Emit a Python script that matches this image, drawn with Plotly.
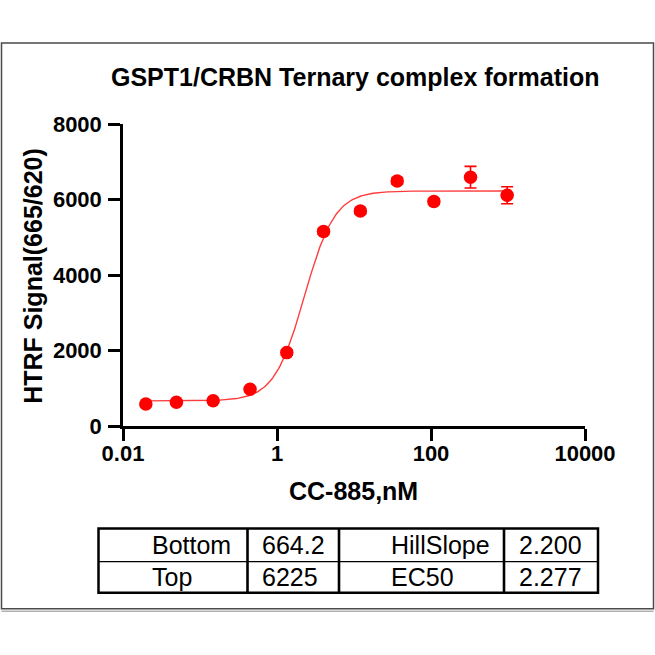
"""
GSPT1/CRBN ternary complex formation - dose response with 4PL fit
"""

import numpy as np
import plotly.graph_objects as go

conc_nm = [0.0198, 0.0494, 0.148, 0.447, 1.34, 4.02, 12.1, 36.4, 109, 326, 975]
htrf_signal = [583, 628, 671, 973, 1944, 5152, 5693, 6489, 5948, 6590, 6112]
htrf_err = [40, 40, 40, 60, 70, 80, 70, 80, 80, 287, 226]

# fit parameters shown in the table
fit_names = ["Bottom", "Top", "HillSlope", "EC50"]
fit_labels = ["664.2", "6225", "2.200", "2.277"]
bottom, top, hill, ec50 = 664.2, 6225.0, 2.200, 2.277

x_ticks = [0.01, 1, 100, 10000]
x_tick_text = ["0.01", "1", "100", "10000"]
y_ticks = [0, 2000, 4000, 6000, 8000]

RED = "#FF0000"
FONT = "Liberation Sans, Arial, sans-serif"

# pixel geometry of the plot area (655 x 655 page)
W = H = 655
L, R, T, B = 123, 585, 124.3, 426


def px(x):
    return (x - L) / (R - L)


def py(y):
    return (B - y) / (B - T)


# 4PL curve evaluated from the fitted parameters
curve_x = np.logspace(np.log10(conc_nm[0]), np.log10(conc_nm[-1]), 300)
curve_y = bottom + (top - bottom) / (1 + (ec50 / curve_x) ** hill)

fig = go.Figure()
fig.add_trace(go.Scatter(
    x=curve_x, y=curve_y, mode="lines",
    line={"color": "#FF3B3B", "width": 1.4},
    hoverinfo="skip", showlegend=False,
))
fig.add_trace(go.Scatter(
    x=conc_nm, y=htrf_signal, mode="markers",
    marker={"color": RED, "size": 13.5},
    error_y={"type": "data", "array": htrf_err, "color": RED,
             "thickness": 1.6, "width": 6},
    showlegend=False,
))

axis_common = {
    "showline": True, "linecolor": "black", "ticks": "outside",
    "ticklen": 12, "tickcolor": "black", "showgrid": False,
    "zeroline": False, "mirror": False,
    "tickfont": {"family": FONT, "size": 22, "color": "black", "weight": "bold"},
}

fig.update_layout(
    width=W, height=H,
    margin={"l": L, "r": W - R, "t": T, "b": H - B, "pad": 0},
    paper_bgcolor="white", plot_bgcolor="white",
    xaxis={**axis_common, "type": "log", "range": [-2, 4],
           "tickvals": x_ticks, "ticktext": x_tick_text,
           "linewidth": 3, "tickwidth": 3, "ticklabelstandoff": -6},
    yaxis={**axis_common, "range": [0, 8000], "tickvals": y_ticks,
           "linewidth": 2.5, "tickwidth": 2.5, "ticklabelstandoff": 2},
)

annotations = [
    {"text": "<b>GSPT1/CRBN Ternary complex formation</b>", "x": px(355), "y": py(77),
     "font": {"size": 25}},
    {"text": "<b>CC-885,nM</b>", "x": px(353), "y": py(491), "font": {"size": 25}},
    {"text": "<b>HTRF Signal(665/620)</b>", "x": px(33), "y": py(276),
     "font": {"size": 25}, "textangle": -90},
]

# table geometry
tbl_left, tbl_right = 98.5, 598
tbl_top, tbl_mid, tbl_bot = 528.5, 561.5, 592.5
col_lines = [247.5, 339, 504]
text_x = [150, 260, 389, 517]
row_y = [(tbl_top + tbl_mid) / 2, (tbl_mid + tbl_bot) / 2]

cells = [
    (fit_names[0], text_x[0], row_y[0]),
    (fit_labels[0], text_x[1], row_y[0]),
    (fit_names[2], text_x[2], row_y[0]),
    (fit_labels[2], text_x[3], row_y[0]),
    (fit_names[1], text_x[0], row_y[1]),
    (fit_labels[1], text_x[1], row_y[1]),
    (fit_names[3], text_x[2], row_y[1]),
    (fit_labels[3], text_x[3], row_y[1]),
]
for text, cx, cy in cells:
    annotations.append({"text": text, "x": px(cx), "y": py(cy), "xanchor": "left",
                        "font": {"size": 25}})

for a in annotations:
    a.setdefault("xanchor", "center")
    a.update({"xref": "paper", "yref": "paper", "yanchor": "middle",
              "showarrow": False})
    a["font"] = {"family": FONT, "color": "black", **a["font"]}
fig.update_layout(annotations=annotations)

shapes = [
    # outer frame
    {"type": "rect", "x0": px(1.5), "x1": px(653.5), "y0": py(43.5), "y1": py(608.5),
     "line": {"color": "#4a4a4a", "width": 1.5}},
    {"type": "line", "x0": px(1.5), "x1": px(653.5), "y0": py(611), "y1": py(611),
     "line": {"color": "#8a8a8a", "width": 1}},
    # table
    {"type": "rect", "x0": px(tbl_left), "x1": px(tbl_right), "y0": py(tbl_top),
     "y1": py(tbl_bot), "line": {"color": "black", "width": 2.5}},
    {"type": "line", "x0": px(tbl_left), "x1": px(tbl_right), "y0": py(tbl_mid),
     "y1": py(tbl_mid), "line": {"color": "black", "width": 1.2}},
]
for cx in col_lines:
    shapes.append({"type": "line", "x0": px(cx), "x1": px(cx), "y0": py(tbl_top),
                   "y1": py(tbl_bot), "line": {"color": "black", "width": 2.6}})
for s in shapes:
    s.update({"xref": "paper", "yref": "paper"})
fig.update_layout(shapes=shapes)

# the page's default body margin would push the figure off by 8px
fig.write_html("out.html", config={"displayModeBar": False},
               post_script="document.body.style.margin = '0';")
